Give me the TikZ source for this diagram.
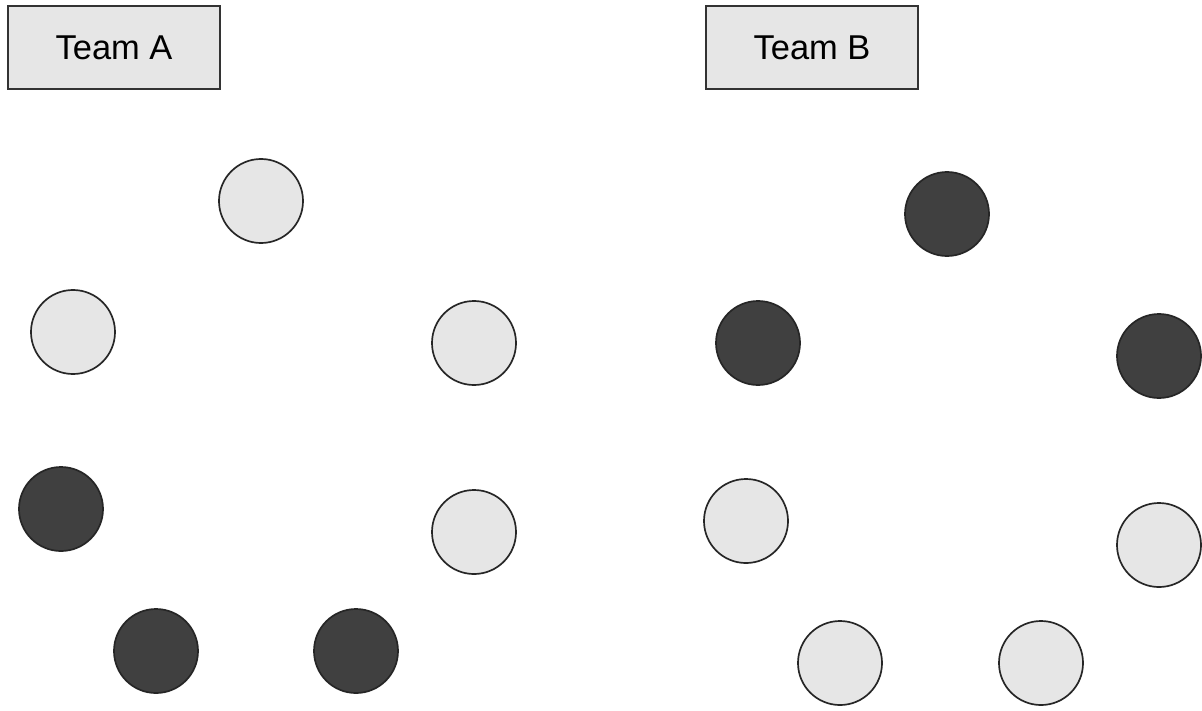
\documentclass[tikz,border=0pt]{standalone}
\usepackage{fontspec}
\setmainfont{Liberation Sans}
\definecolor{boxgray}{HTML}{E6E6E6}
\definecolor{darkplayer}{HTML}{404040}
\definecolor{edgegray}{HTML}{333333}
\tikzset{
  teambox/.style={draw=edgegray, fill=boxgray, line width=1.2pt, minimum width=5.3cm, minimum height=2.08cm, font=\fontsize{24.5}{29}\selectfont},
  light/.style={circle, draw=black!85, fill=boxgray, line width=1.2pt, minimum size=2.1cm, inner sep=0pt},
  dark/.style={circle, draw=black!85, fill=darkplayer, line width=1.2pt, minimum size=2.1cm, inner sep=0pt}
}
\begin{document}
\begin{tikzpicture}[x=0.025cm, y=-0.025cm]
            \useasboundingbox (0,0) rectangle (1202,710);
            \node[teambox] (teamA) at (114,47.5) {Team A};
            \node[teambox] (teamB) at (812,47.5) {Team B};
            % team A
            \node[light] (a1) at (261,201) {};
            \node[light] (a2) at (73,332) {};
            \node[light] (a3) at (474,343) {};
            \node[dark] (a4) at (61,509) {};
            \node[light] (a5) at (474,532) {};
            \node[dark] (a6) at (156,651) {};
            \node[dark] (a7) at (356,651) {};
            % team B
            \node[dark] (b1) at (947,214) {};
            \node[dark] (b2) at (758,343) {};
            \node[dark] (b3) at (1159,356) {};
            \node[light] (b4) at (746,521) {};
            \node[light] (b5) at (1159,545) {};
            \node[light] (b6) at (840,663) {};
            \node[light] (b7) at (1041,663) {};
        \end{tikzpicture}
\end{document}
